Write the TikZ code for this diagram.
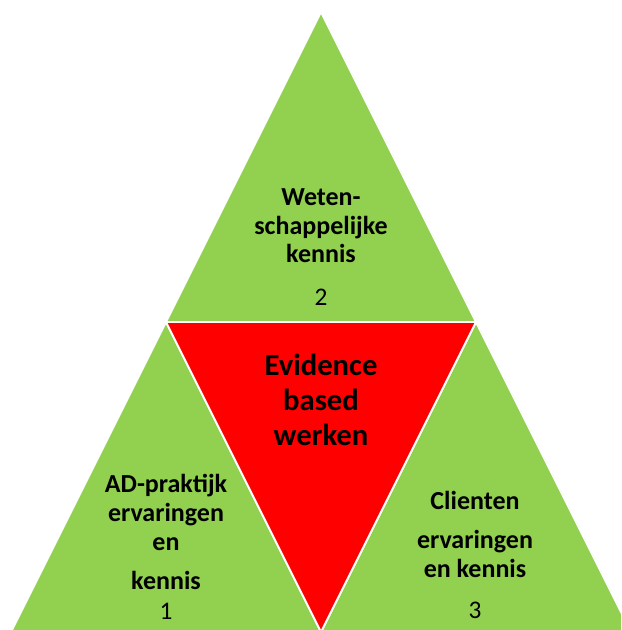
\documentclass[tikz,border=0pt]{standalone}
\usepackage{fontspec}
\setmainfont{Carlito}
\usetikzlibrary{positioning}

\definecolor{leafgreen}{HTML}{92D050}
\definecolor{evired}{HTML}{FF0000}

\tikzset{
  part/.style={draw=white, line width=1.4pt, line join=miter},
  txt/.style={align=center, inner sep=0pt,
    font=\bfseries\fontsize{19.5}{21.5}\selectfont},
  bigtxt/.style={align=center, inner sep=0pt,
    font=\bfseries\fontsize{23}{26}\selectfont},
  num/.style={inner sep=0pt, font=\fontsize{19}{20}\selectfont},
}

\begin{document}
\begin{tikzpicture}[x=0.75pt,y=-0.75pt]

  % Frame
  \useasboundingbox (0,0) rectangle (621,630);
  \clip (0,0) rectangle (621,630);

  % Corners
  \coordinate (top) at (321,12);
  \coordinate (ml)  at (166,322);
  \coordinate (mr)  at (476,322);
  \coordinate (bl)  at (11,632);
  \coordinate (bm)  at (321,632);
  \coordinate (br)  at (631,632);

  % Green parts
  \filldraw[part, fill=leafgreen] (top) -- (mr) -- (ml) -- cycle; %
  \filldraw[part, fill=leafgreen] (ml) -- (bm) -- (bl) -- cycle; %
  \filldraw[part, fill=leafgreen] (mr) -- (br) -- (bm) -- cycle; %

  % Red part
  \filldraw[part, fill=evired] (ml) -- (mr) -- (bm) -- cycle; %

  % Top: 2
  \node[txt] (wk) at (321,226) {Weten-\\schappelijke\\kennis} ; %
  \node[num, below=19pt of wk] (n2) {2} ; %

  % Centre
  \node[bigtxt] (ebw) at (321,400) {Evidence\\based\\werken} ; %

  % Left: 1
  \node[txt] (ad) at (166,532) {AD-praktijk\\ervaringen\\en\\[8pt]kennis} ; %
  \node[num, below=10pt of ad] (n1) {1} ; %

  % Right: 3
  \node[txt] (cl) at (475,534) {Clienten\\[8pt]ervaringen\\en kennis} ; %
  \node[num, below=18pt of cl] (n3) {3} ; %

\end{tikzpicture}
\end{document}
